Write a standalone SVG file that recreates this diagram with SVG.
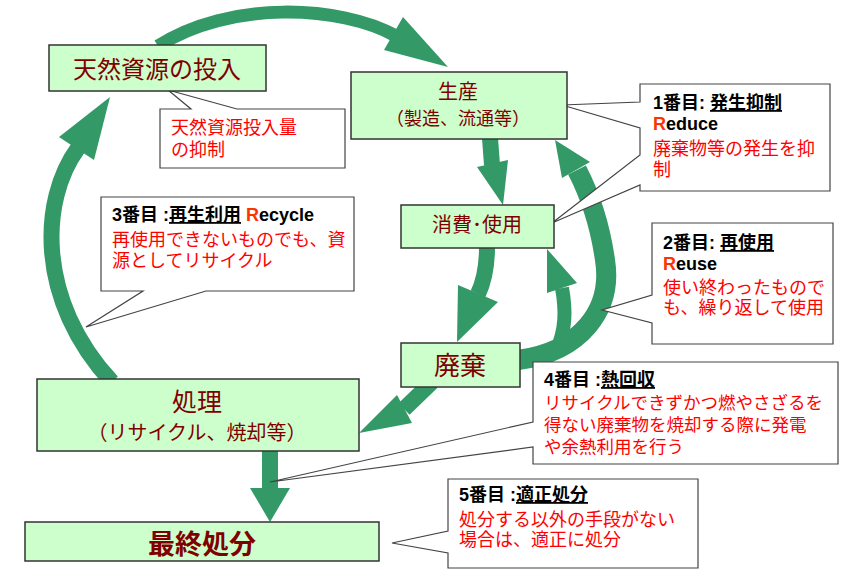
<svg xmlns="http://www.w3.org/2000/svg" width="843" height="581" viewBox="0 0 843 581">
<style>
.node{fill:#CCFFCC;stroke:#333;stroke-width:1.5}
.nt{font-family:"Noto Sans CJK JP","Liberation Sans",sans-serif;fill:#800000;text-anchor:middle}
.call{fill:#fff;stroke:#444;stroke-width:1.2}
.ct{font-family:"Liberation Sans","Noto Sans CJK JP",sans-serif;font-size:18px;fill:#FF0000}
.hd{font-family:"Liberation Sans","Noto Sans CJK JP",sans-serif;font-size:18px;font-weight:bold;fill:#000}
.u{text-decoration:underline}
.r{fill:#FF3300}
.sh{fill:none;stroke:#339966}
.ah{fill:#339966}
</style>
<rect width="843" height="581" fill="#fff"/>
<g id="connectors">
  <path class="sh" stroke-width="13" d="M158,46 C230,0 340,5 396,36"/>
  <polygon class="ah" points="403,17 448,67 384,50"/>
  <path class="sh" stroke-width="16" d="M490,138 L492,165"/>
  <polygon class="ah" points="477,167 508,160 503,205"/>
  <path class="sh" stroke-width="16" d="M487,247 Q487,275 478,294"/>
  <polygon class="ah" points="458,285 498,302 457,342"/>
  <path class="sh" stroke-width="14" d="M556,352 C566,330 566,310 562,288"/>
  <polygon class="ah" points="547,293 577,283 547,249"/>
  <path class="sh" stroke-width="20" d="M518,360 C580,352 613,310 605,260 C600,225 590,195 577,170"/>
  <polygon class="ah" points="562,178 590,162 555,140"/>
  <path class="sh" stroke-width="16" d="M432,382 L404,409"/>
  <polygon class="ah" points="397,395 412,423 359,433"/>
  <path class="sh" stroke-width="16" d="M270,450 L270,489"/>
  <polygon class="ah" points="250,488 290,488 270,522"/>
  <path class="sh" stroke-width="16" d="M112,382 C36,300 40,200 78,148"/>
  <polygon class="ah" points="110,97 59,137 94,160"/>
</g>
<g id="note-input">
  <path class="call" d="M160,109 L191,109 L168,90 L237,109 L345,109 L345,168 L160,168 Z"/>
  <text class="ct" x="171" y="134">天然資源投入量</text>
  <text class="ct" x="171" y="156">の抑制</text>
</g>
<g id="note-reduce">
  <path class="call" d="M640,84 L830,84 L830,191 L640,191 L640,185 L552,223 L640,155 L640,128 L562,105 L640,102 Z"/>
  <text class="hd" x="653" y="109">1番目: <tspan class="u">発生抑制</tspan></text>
  <text class="hd" x="653" y="130"><tspan class="r">R</tspan>educe</text>
  <text class="ct" x="653" y="155">廃棄物等の発生を抑</text>
  <text class="ct" x="653" y="176">制</text>
</g>
<g id="note-reuse">
  <path class="call" d="M652,223 L833,223 L833,344 L652,344 L652,323 L602,310 L652,295 Z"/>
  <text class="hd" x="663" y="249">2番目: <tspan class="u">再使用</tspan></text>
  <text class="hd" x="663" y="270"><tspan class="r">R</tspan>euse</text>
  <text class="ct" x="663" y="294">使い終わったもので</text>
  <text class="ct" x="663" y="314">も、繰り返して使用</text>
</g>
<g id="note-recycle">
  <path class="call" d="M101,197 L354,197 L354,291 L206,291 L86,327 L143,291 L101,291 Z"/>
  <text class="hd" x="112" y="221">3番目 :<tspan class="u">再生利用</tspan> <tspan class="r">R</tspan>ecycle</text>
  <text class="ct" x="112" y="246" font-size="17">再使用できないものでも、資</text>
  <text class="ct" x="112" y="267" font-size="17">源としてリサイクル</text>
</g>
<g id="note-heat">
  <path class="call" d="M533,362 L838,362 L838,464 L533,464 L533,447 L270,482 L533,422 Z"/>
  <text class="hd" x="544" y="386">4番目 :<tspan class="u">熱回収</tspan></text>
  <text class="ct" x="544" y="409" style="font-size:17.5px">リサイクルできずかつ燃やさざるを</text>
  <text class="ct" x="544" y="431" style="font-size:17.5px">得ない廃棄物を焼却する際に発電</text>
  <text class="ct" x="544" y="453" style="font-size:17.5px">や余熱利用を行う</text>
</g>
<g id="note-disposal">
  <path class="call" d="M448,479 L698,479 L698,568 L448,568 L448,553 L392,543 L448,531 Z"/>
  <text class="hd" x="459" y="501">5番目 :<tspan class="u">適正処分</tspan></text>
  <text class="ct" x="459" y="526">処分する以外の手段がない</text>
  <text class="ct" x="459" y="546">場合は、適正に処分</text>
</g>
<g id="node-input">
  <rect class="node" x="49" y="45" width="217" height="46"/>
  <text class="nt" x="157" y="78" font-size="24">天然資源の投入</text>
</g>
<g id="node-production">
  <rect class="node" x="351" y="72" width="216" height="67"/>
  <text class="nt" x="458" y="99" font-size="20">生産</text>
  <text class="nt" x="458" y="125" font-size="18">（製造、流通等）</text>
</g>
<g id="node-consumption">
  <rect class="node" x="401" y="205" width="153" height="43"/>
  <text class="nt" x="477" y="232" font-size="20">消費･使用</text>
</g>
<g id="node-waste">
  <rect class="node" x="401" y="343" width="119" height="44"/>
  <text class="nt" x="460" y="375" font-size="26">廃棄</text>
</g>
<g id="node-treatment">
  <rect class="node" x="37" y="379" width="322" height="72"/>
  <text class="nt" x="197" y="411" font-size="25">処理</text>
  <text class="nt" x="197" y="440" font-size="20">（リサイクル、焼却等）</text>
</g>
<g id="node-final">
  <rect class="node" x="25" y="522" width="354" height="39"/>
  <text class="nt" x="202" y="554" font-size="27" font-weight="bold">最終処分</text>
</g>
</svg>
